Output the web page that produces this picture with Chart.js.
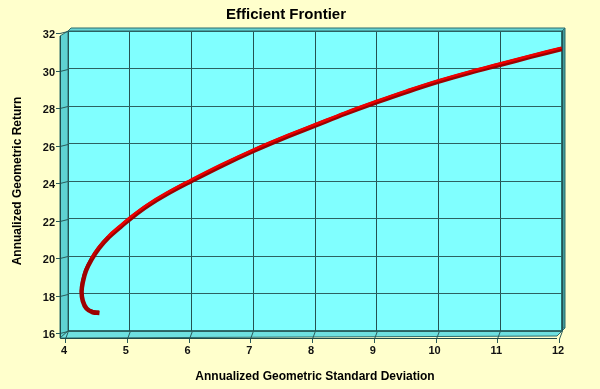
<!DOCTYPE html>
<html>
<head>
<meta charset="utf-8">
<script src="https://cdn.jsdelivr.net/npm/chart.js@4.4.1/dist/chart.umd.min.js"></script>
<style>
html,body{margin:0;padding:0;background:#FFFFCC;}
#wrap{width:600px;height:389px;}
</style>
</head>
<body>
<div id="wrap"><canvas id="c" width="600" height="389"></canvas></div>
<script>
// Annualized Geometric Standard Deviation (x) and Annualized Geometric Return (y)
const stdDev = [4.51, 4.40, 4.30, 4.24, 4.22, 4.24, 4.29, 4.38, 4.50, 4.66, 4.85, 5.05, 5.30, 5.60, 6.00, 6.50, 7.00, 7.50, 8.00, 8.50, 9.00, 9.50, 10.00, 10.50, 11.00, 11.50, 12.00];
const geoReturn = [16.96, 17.00, 17.20, 17.60, 18.10, 18.60, 19.20, 19.80, 20.40, 21.00, 21.55, 22.10, 22.70, 23.30, 24.00, 24.83, 25.60, 26.30, 26.95, 27.60, 28.20, 28.77, 29.30, 29.77, 30.20, 30.63, 31.05];
const xTicks = [4, 5, 6, 7, 8, 9, 10, 11, 12];
const yTicks = [16, 18, 20, 22, 24, 26, 28, 30, 32];

const points = stdDev.map((v, i) => ({x: v, y: geoReturn[i]}));

const DX = -8, DY = 7, TH = 3;

function poly(ctx, pts, fill, stroke) {
  ctx.beginPath();
  ctx.moveTo(pts[0][0], pts[0][1]);
  for (let i = 1; i < pts.length; i++) ctx.lineTo(pts[i][0], pts[i][1]);
  ctx.closePath();
  if (fill) { ctx.fillStyle = fill; ctx.fill(); }
  if (stroke) { ctx.strokeStyle = stroke; ctx.lineWidth = 1; ctx.stroke(); }
}

const frame = {
  id: 'frame',
  beforeDraw(chart) {
    const {ctx, chartArea: a, scales: {x, y}} = chart;
    ctx.save();
    ctx.fillStyle = '#FFFFCC';
    ctx.fillRect(0, 0, chart.width, chart.height);
    // wall thickness (top and right)
    poly(ctx, [[a.left, a.top], [a.left + TH, a.top - TH], [a.right + TH, a.top - TH], [a.right, a.top]], '#66d4d4', '#2d6d6d');
    poly(ctx, [[a.right, a.top], [a.right + TH, a.top - TH], [a.right + TH, a.bottom - TH], [a.right, a.bottom]], '#3f9a9a', '#2d6d6d');
    // side wall
    poly(ctx, [[a.left, a.top], [a.left + DX, a.top + DY - 2], [a.left + DX, a.bottom + DY], [a.left, a.bottom]], '#5fd2d2', '#2d6d6d');
    // floor
    poly(ctx, [[a.left, a.bottom], [a.right + TH, a.bottom - TH], [a.right + TH + DX, a.bottom + DY - TH + 1], [a.left + DX, a.bottom + DY]], '#6ee0e0', '#2d6d6d');
    // back wall
    ctx.fillStyle = '#80FFFF';
    ctx.fillRect(a.left, a.top, a.right - a.left, a.bottom - a.top);
    ctx.strokeStyle = '#2d6d6d';
    ctx.lineWidth = 1;
    ctx.strokeRect(a.left + 0.5, a.top + 0.5, a.right - a.left - 1, a.bottom - a.top - 1);
    // grid continuation on side wall and floor + front ticks
    ctx.strokeStyle = '#2a5a5a';
    ctx.beginPath();
    yTicks.forEach(v => {
      const py = Math.round(y.getPixelForValue(v)) + 0.5;
      ctx.moveTo(a.left, py);
      ctx.lineTo(a.left + DX, py + 2);
      ctx.lineTo(a.left + DX - 4, py + 2);
    });
    xTicks.forEach(v => {
      const px = Math.round(x.getPixelForValue(v)) + 0.5;
      ctx.moveTo(px, a.bottom);
      ctx.lineTo(px - 3, a.bottom + DY + 1);
      ctx.lineTo(px - 3, a.bottom + DY + 5);
    });
    ctx.stroke();
    // front axis lines
    ctx.strokeStyle = '#1f4a4a';
    ctx.beginPath();
    ctx.moveTo(a.left + DX + 0.5, a.top + DY - 2);
    ctx.lineTo(a.left + DX + 0.5, a.bottom + DY + 0.5);
    ctx.lineTo(a.right + TH + DX, a.bottom + DY + 0.5);
    ctx.stroke();
    ctx.restore();
  },
  beforeDatasetDraw(chart, args) {
    if (args.index === 0) { chart.ctx.save(); chart.ctx.translate(-0.5, -1.2); }
  },
  afterDatasetDraw(chart, args) {
    if (args.index === 0) { chart.ctx.restore(); }
  }
};

const tickFont = {family: "'Liberation Sans Narrow', 'Arial Narrow', 'Liberation Sans', Arial, sans-serif", size: 11, weight: 'bold'};
const titleFont = {family: "'Liberation Sans', Arial, sans-serif", size: 12, weight: 'bold'};

new Chart(document.getElementById('c'), {
  type: 'scatter',
  data: {
    datasets: [
      {data: points, showLine: true, borderColor: '#ee0000', borderWidth: 2.5, pointRadius: 0, tension: 0.4, fill: false,
       segment: {borderColor: c => c.p0.parsed.y < 19.8 ? '#a00000' : (c.p0.parsed.y < 21 ? '#c80000' : undefined)}},
      {data: points, showLine: true, borderColor: '#9a0000', borderWidth: 4.5, pointRadius: 0, tension: 0.4, fill: false}
    ]
  },
  options: {
    responsive: false,
    animation: false,
    devicePixelRatio: 1,
    layout: {padding: {top: 0, left: 10, right: 38, bottom: 5}},
    plugins: {
      legend: {display: false},
      tooltip: {enabled: false},
      title: {display: true, text: 'Efficient Frontier', color: '#000', font: {family: "'Liberation Sans', Arial, sans-serif", size: 15, weight: 'bold'}, padding: {top: 6, bottom: 7}}
    },
    scales: {
      x: {
        type: 'linear', min: 4, max: 12,
        afterBuildTicks: s => { s.ticks = xTicks.map(v => ({value: v})); },
        afterFit: s => { s.height = 53; },
        ticks: {color: '#111', font: tickFont, padding: 13, labelOffset: -4, maxRotation: 0},
        grid: {color: '#245252', lineWidth: 1, drawTicks: false},
        border: {display: false},
        title: {display: true, text: 'Annualized Geometric Standard Deviation', color: '#000', font: titleFont, padding: {top: 13, bottom: 0}}
      },
      y: {
        type: 'linear', min: 16, max: 32,
        afterBuildTicks: s => { s.ticks = yTicks.map(v => ({value: v})); },
        afterFit: s => { s.width = 58; },
        ticks: {color: '#111', font: tickFont, padding: 13, labelOffset: 4},
        grid: {color: '#2c6262', lineWidth: 1, drawTicks: false},
        border: {display: false},
        title: {display: true, text: 'Annualized Geometric Return', color: '#000', font: titleFont, padding: {top: 0, bottom: 0}}
      }
    }
  },
  plugins: [frame]
});
</script>
</body>
</html>
